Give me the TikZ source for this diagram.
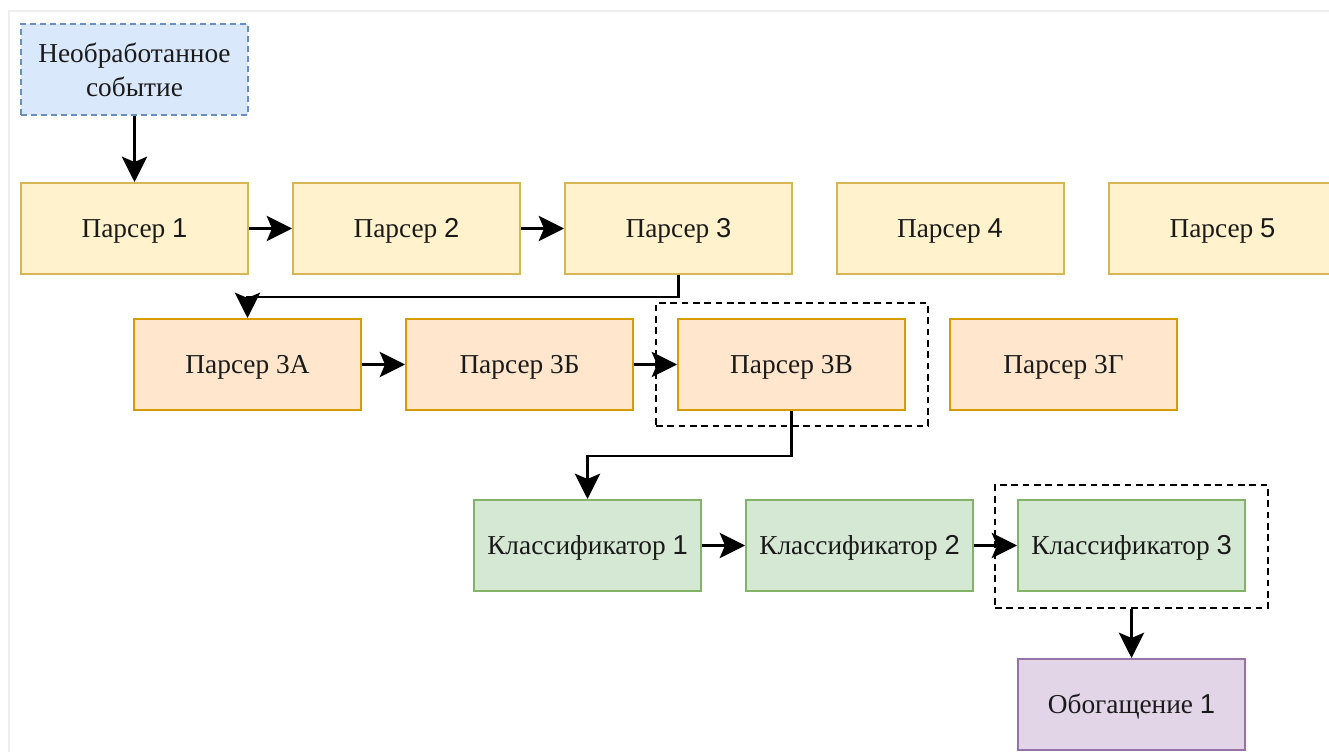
\documentclass[tikz,border=0pt]{standalone}
\usepackage{fontspec}
\setmainfont{Liberation Serif}
\newfontfamily\digfont{Liberation Sans}
\usetikzlibrary{arrows.meta}
\definecolor{frameline}{HTML}{EEEEEE}
\definecolor{bluefill}{HTML}{DAE8FC}
\definecolor{bluedraw}{HTML}{6C8EBF}
\definecolor{yelfill}{HTML}{FFF2CC}
\definecolor{yeldraw}{HTML}{D6B656}
\definecolor{orfill}{HTML}{FFE6CC}
\definecolor{ordraw}{HTML}{D79B00}
\definecolor{grfill}{HTML}{D5E8D4}
\definecolor{grdraw}{HTML}{82B366}
\definecolor{pufill}{HTML}{E1D5E7}
\definecolor{pudraw}{HTML}{9673A6}
\definecolor{txt}{HTML}{1A1A1A}
\tikzset{
  blockbox/.style={rectangle, line width=1.5pt, minimum width=170.25pt, minimum height=68.25pt,
    inner sep=0pt, align=center, font=\rmfamily\fontsize{20.5}{25.5}\selectfont, text=txt},
  onebox/.style={blockbox, text height=15pt, text depth=1.8pt},
  rawbox/.style={blockbox, fill=bluefill, draw=bluedraw, dash pattern=on 4.5pt off 3pt},
  parserbox/.style={onebox, fill=yelfill, draw=yeldraw},
  subbox/.style={onebox, fill=orfill, draw=ordraw},
  classbox/.style={onebox, fill=grfill, draw=grdraw},
  enrichbox/.style={onebox, fill=pufill, draw=pudraw},
  groupbox/.style={rectangle, draw=black, line width=1.5pt, dash pattern=on 5pt off 3.5pt, inner sep=0pt},
  flow/.style={line width=1.7pt, -{Stealth[length=19pt, width=19pt, inset=4pt]}}
}
\begin{document}
\begin{tikzpicture}[x=0.75pt, y=-0.75pt]
\useasboundingbox (0,0) rectangle (1329,752);
\clip (0,0) rectangle (1329,752);
\fill[white] (0,0) rectangle (1329,752);
\draw[frameline, line width=1.5pt] (9,752) -- (9,11) -- (1329,11);

\node[rawbox] (raw) at (134.5,69.5) {Необработанное\\событие};

\node[parserbox] (p1) at (134.5,228.5) {Парсер {\digfont 1}};
\node[parserbox] (p2) at (406.5,228.5) {Парсер {\digfont 2}};
\node[parserbox] (p3) at (678.5,228.5) {Парсер {\digfont 3}};
\node[parserbox] (p4) at (950,228.5) {Парсер {\digfont 4}};
\node[parserbox] (p5) at (1222.5,228.5) {Парсер {\digfont 5}};

\node[groupbox, minimum width=204pt, minimum height=92.25pt] (g1) at (792,364.5) {};
\node[subbox] (p3a) at (247.5,364.5) {Парсер 3А};
\node[subbox] (p3b) at (519.5,364.5) {Парсер 3Б};
\node[subbox] (p3v) at (791.5,364.5) {Парсер 3В};
\node[subbox] (p3g) at (1063.5,364.5) {Парсер 3Г};

\node[groupbox, minimum width=204.75pt, minimum height=92.25pt] (g2) at (1131.5,546.5) {};
\node[classbox] (k1) at (587.5,545.5) {Классификатор {\digfont 1}};
\node[classbox] (k2) at (859.5,545.5) {Классификатор {\digfont 2}};
\node[classbox] (k3) at (1131.5,545.5) {Классификатор {\digfont 3}};

\node[enrichbox] (o1) at (1131.5,704.5) {Обогащение {\digfont 1}};

\draw[flow] (raw.south) -- (p1.north);
\draw[flow] (p1.east) -- (p2.west);
\draw[flow] (p2.east) -- (p3.west);
\draw[flow] (p3.south) -- ++(0,22) -| (p3a.north);
\draw[flow] (p3a.east) -- (p3b.west);
\draw[flow] (p3b.east) -- (p3v.west);
\draw[flow] (p3v.south) -- ++(0,45) -| (k1.north);
\draw[flow] (k1.east) -- (k2.west);
\draw[flow] (k2.east) -- (k3.west);
\draw[flow] (g2.south) -- (o1.north);
\end{tikzpicture}
\end{document}
